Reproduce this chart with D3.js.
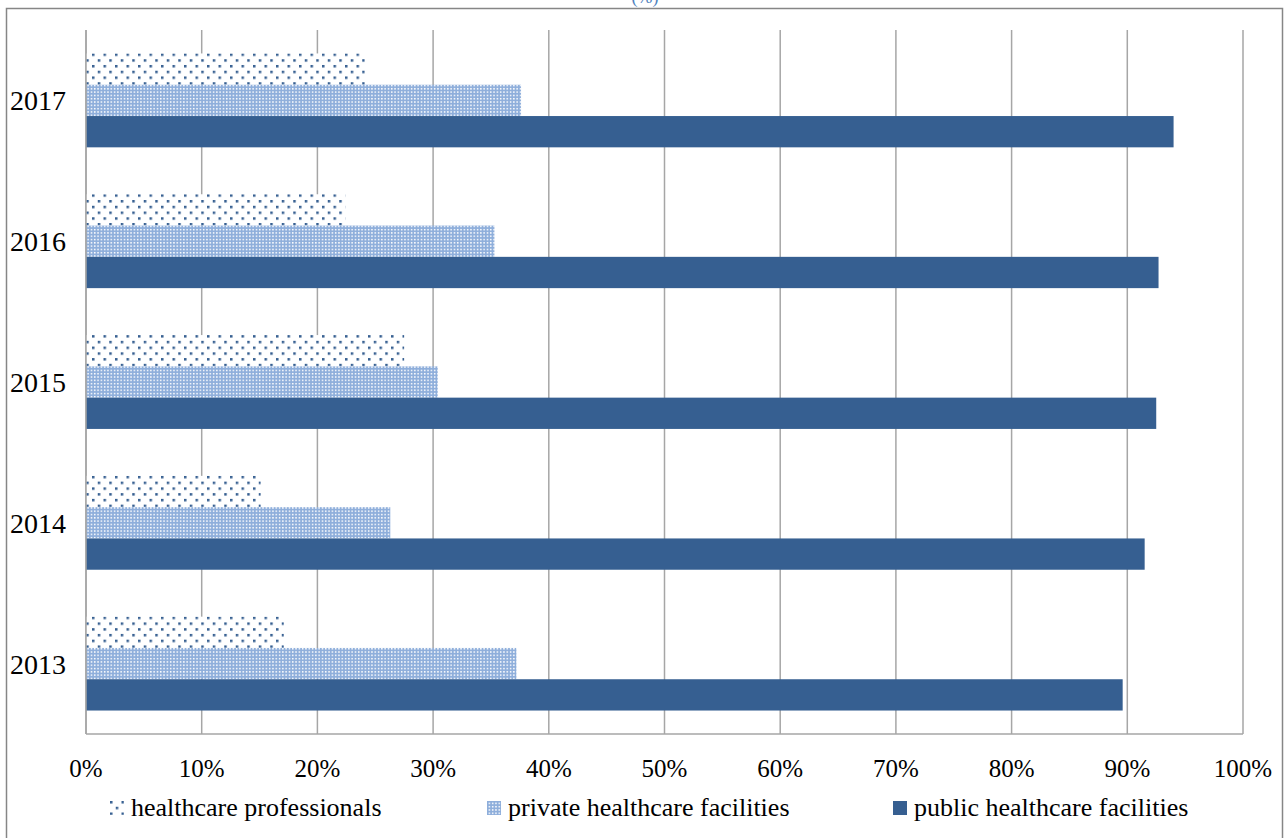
<!DOCTYPE html>
<html>
<head>
<meta charset="utf-8">
<script src="https://cdn.jsdelivr.net/npm/d3@7"></script>
<style>
  body { margin: 0; background: #fff; }
  text { font-family: "Liberation Serif", "DejaVu Serif", serif; fill: #000; }
</style>
</head>
<body>
<div id="chart"></div>
<script>
// Data (share in %)
const years = ["2017", "2016", "2015", "2014", "2013"];
const professionals = [24.1, 22.4, 27.5, 15.1, 17.1];
const privateFacilities = [37.6, 35.3, 30.4, 26.3, 37.2];
const publicFacilities = [94.0, 92.7, 92.5, 91.5, 89.6];
const seriesNames = ["healthcare professionals", "private healthcare facilities", "public healthcare facilities"];
const xTicks = [0, 10, 20, 30, 40, 50, 60, 70, 80, 90, 100];

const W = 1284, H = 838;
const plot = { left: 86, right: 1243, top: 30, bottom: 734 };

const svg = d3.select("#chart")
  .append("svg")
    .attr("width", W)
    .attr("height", H);

// Patterns
const defs = svg.append("defs");
const dots = defs.append("pattern")
  .attr("id", "dots")
  .attr("patternUnits", "userSpaceOnUse")
  .attr("width", 11.5).attr("height", 11.5);
dots.append("rect").attr("width", 11.5).attr("height", 11.5).attr("fill", "#fff");
dots.append("rect").attr("x", 0).attr("y", 0).attr("width", 2.5).attr("height", 2.5).attr("fill", "#365f91");
dots.append("rect").attr("x", 5.75).attr("y", 5.75).attr("width", 2.5).attr("height", 2.5).attr("fill", "#365f91");

const grid = defs.append("pattern")
  .attr("id", "grid")
  .attr("patternUnits", "userSpaceOnUse")
  .attr("width", 3.3).attr("height", 3.3);
grid.append("rect").attr("width", 3.3).attr("height", 3.3).attr("fill", "#8eaedb");
grid.append("rect").attr("x", 1.6).attr("y", 1.6).attr("width", 1.5).attr("height", 1.5).attr("fill", "#fff");

const fills = ["url(#dots)", "url(#grid)", "#365f91"];

// Outer border
svg.append("rect")
  .attr("x", 6.5).attr("y", 8.5)
  .attr("width", 1276).attr("height", 840)
  .attr("fill", "none")
  .attr("stroke", "#868686")
  .attr("stroke-width", 1.5);

// Title (cut off at the top, as in the source)
svg.append("text")
  .attr("x", 645).attr("y", 3)
  .attr("text-anchor", "middle")
  .style("font-size", "18px")
  .style("fill", "#4f81bd")
  .text("(%)");

// Scales
const x = d3.scaleLinear().domain([0, 100]).range([plot.left, plot.right]);
const y0 = d3.scaleBand().domain(years).range([plot.top, plot.bottom])
  .paddingInner(1 / 3).paddingOuter(1 / 6);
const y1 = d3.scaleBand().domain(seriesNames).range([0, y0.bandwidth()]);

// Gridlines
svg.append("g")
  .selectAll("line")
  .data(xTicks)
  .join("line")
    .attr("x1", d => x(d)).attr("x2", d => x(d))
    .attr("y1", plot.top).attr("y2", plot.bottom)
    .attr("stroke", "#a6a6a6")
    .attr("stroke-width", 1.5);

// Bars
const rows = years.map((yr, i) => ({
  year: yr,
  values: [professionals[i], privateFacilities[i], publicFacilities[i]]
}));

const groups = svg.append("g")
  .selectAll("g")
  .data(rows)
  .join("g")
    .attr("transform", d => `translate(0,${y0(d.year)})`);

groups.selectAll("rect")
  .data(d => d.values.map((v, j) => ({ name: seriesNames[j], value: v, j })))
  .join("rect")
    .attr("x", x(0))
    .attr("y", d => y1(d.name))
    .attr("width", d => x(d.value) - x(0))
    .attr("height", y1.bandwidth())
    .attr("fill", d => fills[d.j]);

// Axis lines
svg.append("line")
  .attr("x1", plot.left).attr("x2", plot.right)
  .attr("y1", plot.bottom).attr("y2", plot.bottom)
  .attr("stroke", "#a6a6a6").attr("stroke-width", 1.5);
svg.append("line")
  .attr("x1", plot.left).attr("x2", plot.left)
  .attr("y1", plot.top).attr("y2", plot.bottom)
  .attr("stroke", "#a6a6a6").attr("stroke-width", 1.5);

// Tick labels
svg.append("g")
  .selectAll("text")
  .data(xTicks)
  .join("text")
    .attr("x", d => x(d))
    .attr("y", 777)
    .attr("text-anchor", "middle")
    .style("font-size", "25px")
    .text(d => d + "%");

svg.append("g")
  .selectAll("text")
  .data(years)
  .join("text")
    .attr("x", 66)
    .attr("y", d => y0(d) + y0.bandwidth() / 2 + 10)
    .attr("text-anchor", "end")
    .style("font-size", "28px")
    .text(d => d);

// Legend
const legendX = [110, 487, 893];
const legend = svg.append("g")
  .selectAll("g")
  .data(seriesNames)
  .join("g")
    .attr("transform", (d, i) => `translate(${legendX[i]},801)`);
legend.append("rect")
  .attr("width", 14).attr("height", 14)
  .attr("fill", (d, i) => fills[i]);
legend.append("text")
  .attr("x", 21).attr("y", 15)
  .style("font-size", "26px")
  .text(d => d);
</script>
</body>
</html>
